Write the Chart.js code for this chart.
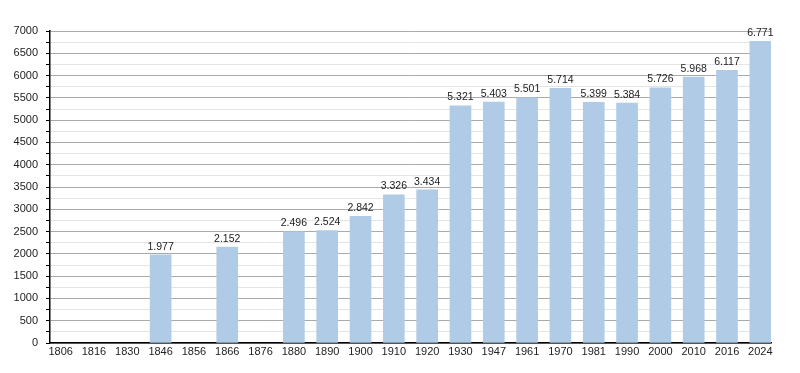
<!DOCTYPE html>
<html>
<head>
<meta charset="utf-8">
<script src="https://cdn.jsdelivr.net/npm/chart.js@4/dist/chart.umd.min.js"></script>
<style>
  html, body { margin: 0; padding: 0; background: #fff; }
  #wrap { width: 800px; height: 373px; }
</style>
</head>
<body>
<div id="wrap"><canvas id="c"></canvas></div>
<script>
// census years and population
const years = ['1806', '1816', '1830', '1846', '1856', '1866', '1876', '1880', '1890', '1900', '1910',
  '1920', '1930', '1947', '1961', '1970', '1981', '1990', '2000', '2010', '2016', '2024'];
const population = [null, null, null, 1977, null, 2152, null, 2496, 2524, 2842, 3326,
  3434, 5321, 5403, 5501, 5714, 5399, 5384, 5726, 5968, 6117, 6771];
const yTicks = [0, 500, 1000, 1500, 2000, 2500, 3000, 3500, 4000, 4500, 5000, 5500, 6000, 6500, 7000];

const fontFamily = '"Liberation Sans", Arial, sans-serif';

// thousands with a dot, like 6.771
function fmt(v) {
  return String(v).replace(/\B(?=(\d{3})+(?!\d))/g, '.');
}

const valueLabels = {
  id: 'valueLabels',
  afterDatasetsDraw(chart) {
    const ctx = chart.ctx;
    const meta = chart.getDatasetMeta(0);
    ctx.save();
    ctx.font = '10.5px ' + fontFamily;
    ctx.fillStyle = '#222';
    ctx.textAlign = 'center';
    ctx.textBaseline = 'bottom';
    meta.data.forEach((el, i) => {
      const v = population[i];
      if (v == null) return;
      ctx.fillText(fmt(v), el.x, el.y - 3);
    });
    ctx.restore();
  }
};

new Chart(document.getElementById('c'), {
  type: 'bar',
  data: {
    datasets: [{
      data: population.map((v, i) => ({ x: i, y: v })),
      backgroundColor: '#b0cbe5',
      borderWidth: 0,
      barThickness: 21
    }]
  },
  options: {
    responsive: true,
    maintainAspectRatio: false,
    animation: false,
    layout: { padding: { top: 31, right: 29, left: 0, bottom: 0 } },
    plugins: {
      legend: { display: false },
      tooltip: { enabled: false }
    },
    scales: {
      x: {
        type: 'linear',
        offset: false,
        min: -0.32,
        max: 21.32,
        afterBuildTicks(scale) {
          scale.ticks = years.map((_, i) => ({ value: i }));
        },
        afterFit(scale) { scale.height = 30; },
        ticks: {
          autoSkip: false,
          maxRotation: 0,
          color: '#222',
          font: { family: fontFamily, size: 11 },
          padding: 2,
          callback: (v) => years[v] ?? ''
        },
        grid: { display: false, drawTicks: false },
        border: { color: '#000', width: 1.5 }
      },
      y: {
        min: 0,
        max: 7000,
        afterBuildTicks(scale) {
          const t = [];
          for (let v = 0; v <= 7000; v += 250) t.push({ value: v });
          scale.ticks = t;
        },
        afterFit(scale) { scale.width = 50; },
        ticks: {
          autoSkip: false,
          color: '#222',
          font: { family: fontFamily, size: 11 },
          padding: 8,
          callback: (v) => yTicks.includes(v) ? String(v) : ''
        },
        grid: {
          color: (c) => c.tick && c.tick.value % 500 === 0 ? '#aaaaaa' : '#e4e4e4',
          tickColor: '#000',
          tickLength: 4,
          lineWidth: 1
        },
        border: { color: '#000', width: 1.5 }
      }
    }
  },
  plugins: [valueLabels]
});
</script>
</body>
</html>
